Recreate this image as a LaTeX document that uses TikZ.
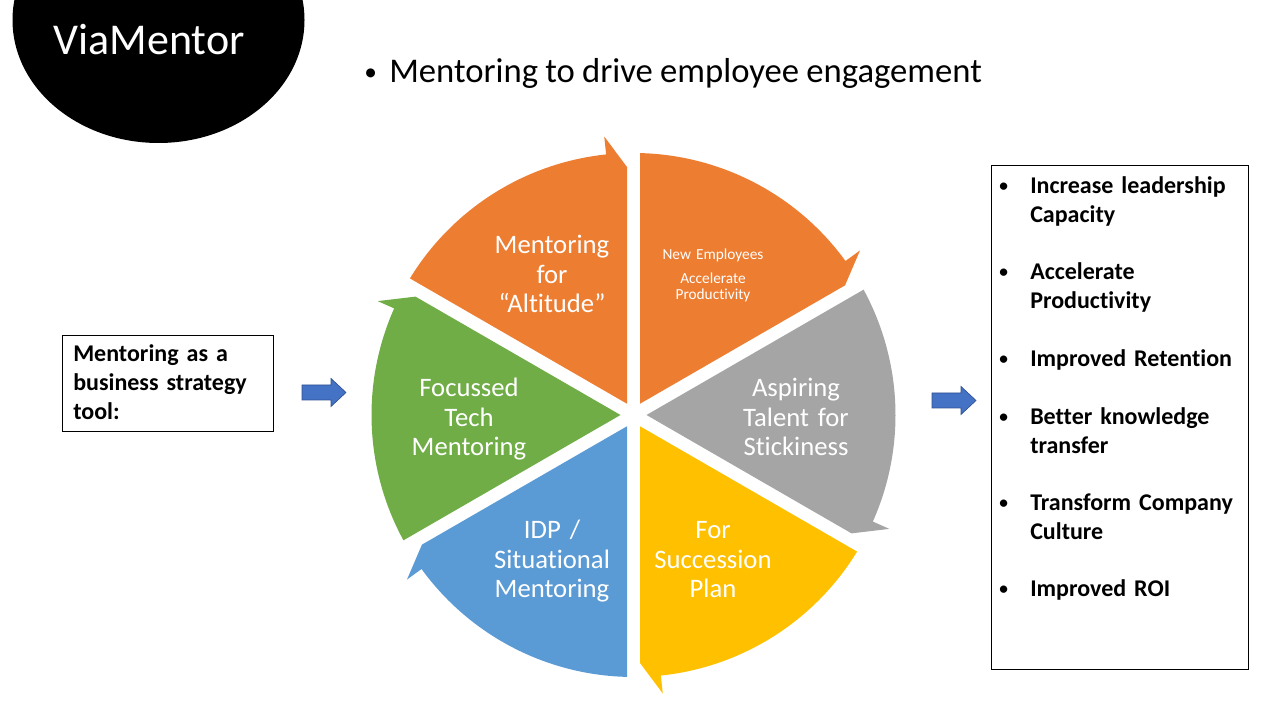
\documentclass[tikz,border=0pt]{standalone}
\usepackage{fontspec}
\setmainfont{Carlito}[Ligatures=NoCommon, WordSpace=0.92, BoldFeatures={WordSpace=0.75}]
\usetikzlibrary{positioning}
\definecolor{segorange}{HTML}{ED7D31}
\definecolor{seggray}{HTML}{A5A5A5}
\definecolor{segyellow}{HTML}{FFC000}
\definecolor{segblue}{HTML}{5B9BD5}
\definecolor{seggreen}{HTML}{70AD47}
\definecolor{arrowblue}{HTML}{4472C4}
\definecolor{arrowedge}{HTML}{2F528F}
\newcommand{\itembullet}{\llap{\makebox[0pt]{\raisebox{1.6pt}{\fontsize{13}{13}\selectfont\textbullet}}\hspace{20pt}}}

\begin{document}
\begin{tikzpicture}[x=0.75pt,y=0.75pt,
    seglabel/.style={text=white, align=center, text width=112pt, anchor=base, inner sep=0pt,
      font=\fontsize{20}{22}\selectfont},
    boxtext/.style={anchor=base west, align=left, inner sep=0pt, text width=160pt,
      font=\bfseries\fontsize{18}{21.6}\selectfont},
    blockarrow/.pic={\filldraw[fill=arrowblue, draw=arrowedge, line width=0.5pt]
      (-22,-7.5) -- (7,-7.5) -- (7,-14) -- (22,0) -- (7,14) -- (7,7.5) -- (-22,7.5) -- cycle;}]
  \useasboundingbox (0,0) rectangle (1280,720);
  \clip (0,0) rectangle (1280,720);

  % logo
  \fill (158.5,700) ellipse [x radius=146, y radius=123];
  \node[anchor=base, text=white, inner sep=0pt, font=\fontsize{33}{39}\selectfont] (logo) at (149,665) {ViaMentor};
  \node[anchor=base west, inner sep=0pt, font=\fontsize{26}{31}\selectfont] (title) at (389,637)
    {\llap{\makebox[0pt]{\raisebox{2pt}{\fontsize{19}{19}\selectfont\textbullet}}\hspace{14pt}}Mentoring to drive employee engagement};

  % the wheel
  \foreach \ang/\col in {90/segorange, 30/segorange, -30/seggray, -90/segyellow, -150/segblue, 150/seggreen}
    \fill[\col, shift={(633.5,305)}, rotate=\ang]
      (11.26,6.5) -- (248,6.5) -- (6:280) -- (6:262) arc[start angle=6, end angle=58.58, radius=262] -- cycle;

  \node[seglabel] (altlabel) at (552,466) {Mentoring\\for\\``Altitude''};
  \node[seglabel, font=\fontsize{11.5}{12.6}\selectfont] (newlabel) at (713,460.7)
    {New Employees\\[5.2pt]Accelerate\\Productivity};
  \node[seglabel] (aspirelabel) at (796,323) {Aspiring\\Talent for\\Stickiness};
  \node[seglabel] (succlabel) at (713,181) {For\\Succession\\Plan};
  \node[seglabel] (idplabel) at (552,181) {IDP /\\Situational\\Mentoring};
  \node[seglabel] (techlabel) at (469,323) {Focussed\\Tech\\Mentoring};

  % left box
  \draw[line width=0.75pt] (62,384) rectangle (273,288);
  \node[boxtext] (tooltxt) at (73,358) {Mentoring as a\\business strategy\\tool:};
  \pic at (324,327.5) {blockarrow};

  % right box
  \pic at (954,319.5) {blockarrow};
  \draw[line width=0.75pt] (991,554) rectangle (1248,50);
  \node[boxtext] (gain1) at (1030,526.5) {\itembullet Increase leadership\\Capacity};
  \node[boxtext] (gain2) at (1030,440) {\itembullet Accelerate\\Productivity};
  \node[boxtext] (gain3) at (1030,353.3) {\itembullet Improved Retention};
  \node[boxtext] (gain4) at (1030,295.7) {\itembullet Better knowledge\\transfer};
  \node[boxtext] (gain5) at (1030,209.3) {\itembullet Transform Company\\Culture};
  \node[boxtext] (gain6) at (1030,123) {\itembullet Improved ROI};
\end{tikzpicture}
\end{document}
